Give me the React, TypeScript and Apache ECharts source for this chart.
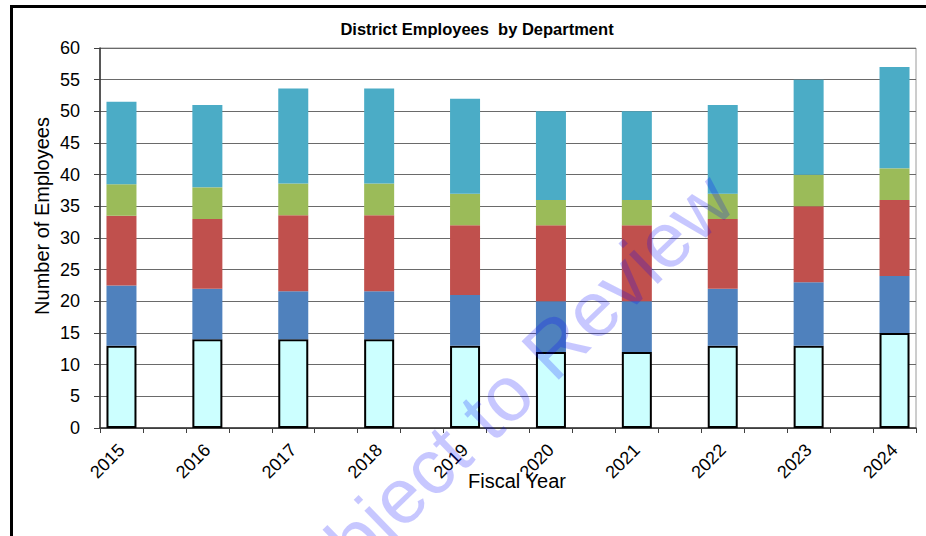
import React, { useEffect, useRef } from "react";
import * as echarts from "echarts";

const years = ["2015", "2016", "2017", "2018", "2019", "2020", "2021", "2022", "2023", "2024"];
const baseDept = [13, 14, 14, 14, 13, 12, 12, 13, 13, 15];
const blueDept = [9.5, 8, 7.6, 7.6, 8, 8, 8, 9, 10, 9];
const redDept = [11, 11, 12, 12, 11, 12, 12, 11, 12, 12];
const greenDept = [5, 5, 5, 5, 5, 4, 4, 4, 5, 5];
const tealDept = [13, 13, 15, 15, 15, 14, 14, 14, 15, 16];
const yTicks = { min: 0, max: 60, interval: 5 };

const FONT = "'Liberation Sans', Arial, sans-serif";

// Excel-style layout: each year sits in every other category slot
const slots: string[] = [];
years.forEach((y, i) => {
  slots.push(y);
  if (i < years.length - 1) slots.push("");
});
const spread = (arr: number[]) => {
  const out: (number | string)[] = [];
  arr.forEach((v, i) => {
    out.push(v);
    if (i < arr.length - 1) out.push("-");
  });
  return out;
};

export default function App() {
  const ref = useRef<HTMLDivElement>(null);
  useEffect(() => {
    if (!ref.current) return;
    const chart = echarts.init(ref.current, undefined, { renderer: "svg" });
    const mk = (name: string, data: number[], color: string, extra: any = {}) => ({
      name,
      type: "bar",
      stack: "total",
      barWidth: 30,
      data: spread(data),
      itemStyle: { color, ...extra },
    });
    chart.setOption({
      animation: false,
      backgroundColor: "#ffffff",
      textStyle: { fontFamily: FONT },
      grid: {
        left: 100,
        right: 10,
        top: 48,
        bottom: 108,
        show: true,
        borderColor: "#9a9a9a",
        borderWidth: 1,
      },
      xAxis: {
        type: "category",
        data: slots,
        axisLine: { show: true, lineStyle: { color: "#303030", width: 1.5 } },
        axisTick: { show: true, interval: 0, length: 5, alignWithLabel: false, lineStyle: { color: "#404040" } },
        axisLabel: {
          interval: 0,
          rotate: 45,
          margin: 19,
          fontSize: 18,
          color: "#000",
          fontFamily: FONT,
        },
        splitLine: { show: false },
      },
      yAxis: {
        type: "value",
        min: yTicks.min,
        max: yTicks.max,
        interval: yTicks.interval,
        axisLine: { show: true, lineStyle: { color: "#303030", width: 1.5 } },
        axisTick: { show: true, length: 6, lineStyle: { color: "#404040" } },
        axisLabel: { margin: 20, fontSize: 18, color: "#000", fontFamily: FONT },
        splitLine: { show: true, lineStyle: { color: "#6a6a6a", width: 1 } },
      },
      series: [
        mk("Department 1", baseDept, "#CCFFFF", { borderColor: "#000", borderWidth: 2 }),
        mk("Department 2", blueDept, "#4F81BD"),
        mk("Department 3", redDept, "#C0504D"),
        mk("Department 4", greenDept, "#9BBB59"),
        mk("Department 5", tealDept, "#4BACC6"),
      ],
      graphic: [
        {
          type: "rect",
          shape: { x: 11.5, y: 6.5, width: 2000, height: 2000 },
          style: { fill: "none", stroke: "#000", lineWidth: 3 },
          silent: true,
        },
        {
          type: "text",
          x: 477,
          y: 29,
          style: {
            text: "District Employees  by Department",
            font: `bold 16.5px ${FONT}`,
            fill: "#000",
            align: "center",
            verticalAlign: "middle",
          },
        },
        {
          type: "text",
          x: 42,
          y: 216,
          rotation: Math.PI / 2,
          style: {
            text: "Number of Employees",
            font: `20px ${FONT}`,
            fill: "#000",
            align: "center",
            verticalAlign: "middle",
          },
        },
        {
          type: "text",
          x: 517,
          y: 481,
          style: {
            text: "Fiscal Year",
            font: `20px ${FONT}`,
            fill: "#000",
            align: "center",
            verticalAlign: "middle",
          },
        },
        {
          type: "text",
          x: 495,
          y: 404,
          rotation: (44 * Math.PI) / 180,
          z: 100,
          style: {
            text: "Subject to Review",
            font: `78px ${FONT}`,
            fill: "rgba(0,0,255,0.22)",
            align: "center",
            verticalAlign: "middle",
          },
        },
      ],
    });
    return () => chart.dispose();
  }, []);
  return (
    <div
      ref={ref}
      style={{ position: "fixed", left: 0, top: 0, width: 926, height: 536, background: "#fff" }}
    />
  );
}
